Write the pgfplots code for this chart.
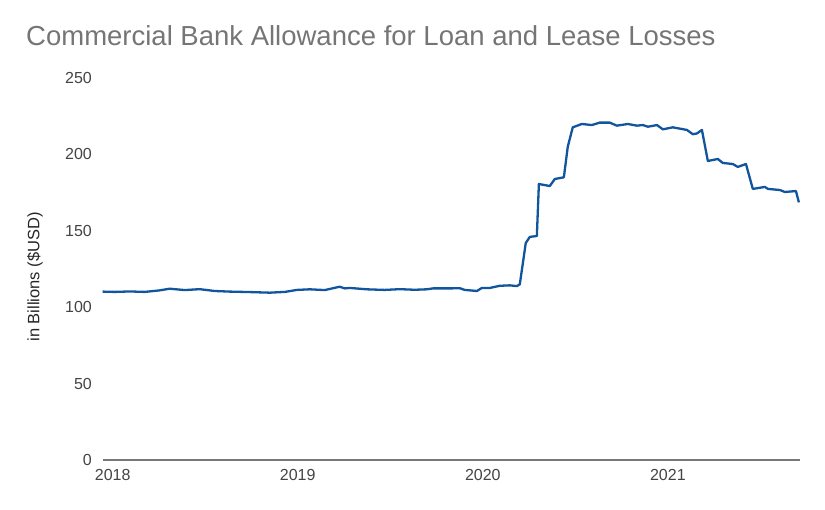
\documentclass[border=0pt]{standalone}
\usepackage{fontspec}
\setmainfont{Liberation Sans}
\usepackage{pgfplots}
\pgfplotsset{compat=1.18}
\definecolor{lineblue}{RGB}{17,85,158}
\definecolor{titlegray}{RGB}{117,117,117}
\definecolor{tickgray}{RGB}{68,68,68}
\definecolor{axisgray}{RGB}{120,120,120}
\begin{document}
\begin{tikzpicture}
\begin{axis}[
  at={(102.7pt,50pt)}, anchor=south west,
  scale only axis, width=697.3pt, height=382pt,
  xmin=2017.946, xmax=2021.714,
  ymin=0, ymax=250,
  ytick={0,50,100,150,200,250},
  xtick={2018,2019,2020,2021},
  xticklabels={2018,2019,2020,2021},
  axis x line*=bottom, axis y line*=left,
  x axis line style={draw=axisgray, line width=1.8pt, -},
  y axis line style={draw=none},
  major tick length=0pt,
  /pgf/number format/assume math mode=true,
  /pgf/number format/1000 sep={},
  tick label style={font=\fontsize{16}{16}\selectfont, text=tickgray},
  yticklabel style={anchor=east, inner sep=0pt, xshift=-10.7pt},
  xticklabel style={anchor=north, inner sep=0pt, yshift=-9pt},
  clip=false,
]
\addplot[color=lineblue, line width=2.3pt, line join=round] coordinates {
(2017.946,110.2) (2018.011,110.0) (2018.092,110.3) (2018.173,110.0) (2018.254,111.0)
(2018.308,112.1) (2018.389,111.2) (2018.470,111.8) (2018.551,110.6) (2018.632,110.2)
(2018.741,109.9) (2018.849,109.5) (2018.930,110.0) (2018.995,111.3) (2019.065,111.7)
(2019.146,111.2) (2019.227,113.4) (2019.254,112.3) (2019.281,112.6) (2019.373,111.7)
(2019.470,111.3) (2019.551,111.8) (2019.632,111.4) (2019.697,111.7) (2019.730,112.3)
(2019.822,112.3) (2019.876,112.4) (2019.903,111.3) (2019.968,110.6) (2019.995,112.6)
(2020.038,112.6) (2020.092,114.0) (2020.146,114.3) (2020.184,113.8) (2020.200,115.0)
(2020.232,142.0) (2020.254,146.0) (2020.292,146.6) (2020.303,180.6) (2020.362,179.3)
(2020.389,183.9) (2020.438,185.0) (2020.459,205.0) (2020.486,217.7) (2020.535,219.9)
(2020.589,219.2) (2020.632,220.8) (2020.686,220.8) (2020.724,218.8) (2020.784,219.9)
(2020.832,218.8) (2020.865,219.2) (2020.892,218.1) (2020.941,219.2) (2020.973,216.4)
(2021.027,217.7) (2021.103,216.0) (2021.135,213.2) (2021.157,213.7) (2021.184,216.0)
(2021.216,195.7) (2021.270,197.0) (2021.297,194.4) (2021.351,193.7) (2021.378,191.8)
(2021.422,193.7) (2021.459,177.4) (2021.524,178.7) (2021.541,177.4) (2021.605,176.7)
(2021.632,175.4) (2021.692,176.0) (2021.708,168.6)
};
\end{axis}
\node[anchor=base west, inner sep=0pt, text=titlegray, font=\fontsize{27.5}{27.5}\selectfont] at (26pt,464pt) {Commercial Bank Allowance for Loan and Lease Losses};
\node[rotate=90, inner sep=0pt, text=black!85, font=\fontsize{16.5}{16.5}\selectfont] at (35pt,233pt) {in Billions (\$USD)};
\useasboundingbox (0pt,0pt) rectangle (825pt,510pt);
\end{tikzpicture}
\end{document}
